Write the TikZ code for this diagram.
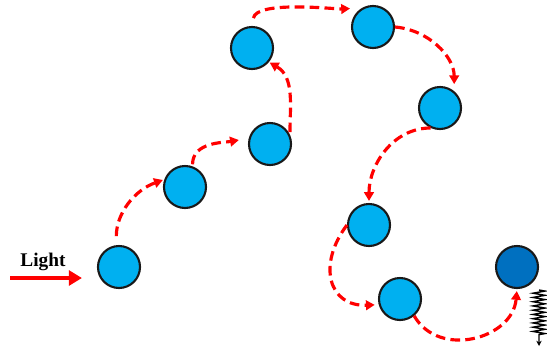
\documentclass[tikz,border=0pt]{standalone}
\usepackage{fontspec}
\setmainfont{Liberation Serif}
\usetikzlibrary{arrows.meta,decorations.pathmorphing}
\definecolor{sitefill}{HTML}{00B0F0}
\definecolor{trapfill}{HTML}{0070C0}
\tikzset{
    site/.style={
        circle, draw=black!90, line width=1.2pt,
        fill=sitefill, minimum size=0.84cm, inner sep=0pt
    },
    trap site/.style={
        site, fill=trapfill
    },
    hop/.style={
        draw=red, line width=1.8pt,
        dash pattern=on 5.5pt off 3pt,
        -{Triangle[length=5pt,width=5.5pt]}
    },
    light beam/.style={
        draw=red, line width=2.8pt,
        -{Triangle[length=7.5pt,width=8.5pt]}
    },
    emission/.style={
        draw=black, line width=0.8pt,
        decorate, decoration={zigzag, amplitude=0.12cm,
        segment length=0.085cm, post length=0.2cm},
        -{Stealth[length=3pt,width=3pt]}
    }
}

\begin{document}
\begin{tikzpicture}[x=0.02cm, y=-0.02cm]
                \useasboundingbox (0,0) rectangle (547,349);

                \node[site] (s1) at (119,267) {};
                \node[site] (s2) at (185,187) {};
                \node[site] (s3) at (270,144) {};
                \node[site] (s4) at (252,48) {};
                \node[site] (s5) at (373,27) {};
                \node[site] (s6) at (440,108) {};
                \node[site] (s7) at (369,225) {};
                \node[site] (s8) at (400,299) {};
                \node[trap site] (trap) at (517,267) {};

                % incoming light
                \node[font=\fontsize{11}{13}\selectfont\bfseries] (light label) at (43,262) {Light};
                \coordinate (beam start) at (10,278);
                \draw[light beam, shorten >=0.3cm] (beam start) -- (beam start -| s1.west);

                % hopping
                \draw[hop, shorten <=0.18cm, shorten >=0.03cm] (s1.97) to[out=90,in=200] (s2.160);
                \draw[hop, shorten <=0.04cm, shorten >=0.2cm] (s2.70) to[out=90,in=190] (s3.165);
                \draw[hop, shorten <=0.05cm, shorten >=0.02cm] (s3.25) to[out=90,in=-30] (s4.-40);
                \draw[hop, shorten <=0.16cm, shorten >=0.24cm] (s4.north) to[out=80,in=183,looseness=0.6] (s5.120);
                \draw[hop, shorten >=0.14cm] (s5.east) to[out=-5,in=90] (s6.50);
                \draw[hop, shorten >=0.04cm] (s6.245) to[out=180,in=90] (s7.north);
                \draw[hop, shorten >=0.08cm] (s7.west) .. controls +(-30,40) and +(-50,2) .. (s8.195);
                \draw[hop, shorten >=0.04cm] (s8.-50) to[out=-60,in=-95,looseness=1.2] (trap.south);

                % emission
                \coordinate (emit top) at (539,290);
                \draw[emission] (emit top) -- ++(0,56);
\end{tikzpicture}
\end{document}
